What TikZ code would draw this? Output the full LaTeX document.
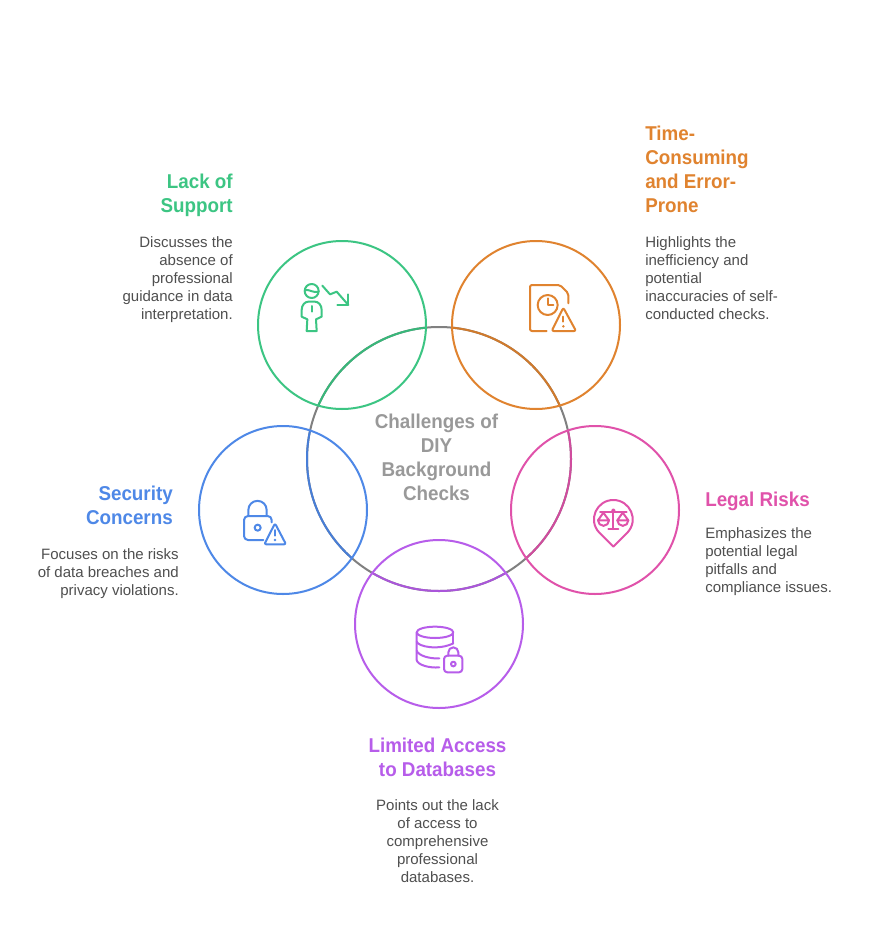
\documentclass[tikz,border=0pt]{standalone}
\usepackage{fontspec}
\setmainfont{Liberation Sans}
\newfontfamily\headfont[FakeStretch=0.94]{Liberation Sans}
\usetikzlibrary{arrows.meta,positioning}
\definecolor{dgreen}{HTML}{3CC583}
\definecolor{dorange}{HTML}{E0832F}
\definecolor{dblue}{HTML}{4E88E7}
\definecolor{dpink}{HTML}{E052AA}
\definecolor{dpurple}{HTML}{B75DEA}
\definecolor{dgray}{HTML}{808080}
\definecolor{dlabel}{HTML}{999999}
\definecolor{dbody}{HTML}{4F4F4F}
\tikzset{
  ring/.style={circle,draw,line width=1.5pt,minimum size=126pt,inner sep=0pt,outer sep=0pt},
  heading/.style={font=\headfont\fontsize{15}{18}\selectfont\bfseries,inner sep=0pt},
  bodytext/.style={font=\fontsize{11.25}{13.5}\selectfont,text=dbody,inner sep=0pt},
  icon/.style={line width=1.5pt,line cap=round,line join=round}
}

\begin{document}
\begin{tikzpicture}[x=0.75pt,y=-0.75pt]
  \useasboundingbox (0,0) rectangle (873,938);
  \fill[white] (0,0) rectangle (873,938);

  % ---- Centre circle ----------------------------------------
  \node[ring,draw=dgray,minimum size=198pt] (hub) at (439,459) {};
  \foreach \cx/\cy/\col in {342/325/dgreen,536/325/dorange,283/510/dblue,595/510/dpink,439/624/dpurple} {
    \begin{scope}
      \clip (\cx,\cy) circle (84);
      \draw[\col!93!black,line width=1.5pt] (439,459) circle (132);
    \end{scope}
  }
  \node[font=\headfont\fontsize{15}{18}\selectfont\bfseries,text=dlabel,align=center,inner sep=0pt] (hubtext) at (436.5,457) {Challenges of\\DIY\\Background\\Checks};

  % ---- Outer circles ----------------------------------------
  \node[ring,draw=dgreen] (support) at (342,325) {};
  \node[ring,draw=dorange] (timing) at (536,325) {};
  \node[ring,draw=dblue] (security) at (283,510) {};
  \node[ring,draw=dpink] (legal) at (595,510) {};
  \node[ring,draw=dpurple] (access) at (439,624) {};

  % ---- Lack of Support --------------------------------------
  \node[heading,text=dgreen,align=right,anchor=north east] (supporthead) at (233,174) {Lack of\\Support};
  \node[bodytext,align=right,anchor=north east] (supportbody) at (233,236) {Discusses the\\absence of\\professional\\guidance in data\\interpretation.};
  \begin{scope}[shift={(280,260)},x=0.25pt,y=-0.25pt,icon,dgreen]
    \draw (95,93) circle (21);
    \draw (75,90) .. controls (90,88) and (100,100) .. (116,95);
    \draw (80,213) -- (110,213) -- (108,178) -- (125,170) -- (125,150) .. controls (125,135) and (115,125) .. (105,125)
      -- (85,125) .. controls (75,125) and (65,135) .. (65,150) -- (65,170) -- (82,178) -- cycle;
    \draw (95,138) -- (95,155);
    \draw (127,77) -- (150,103) -- (170,95) -- (205,135);
    \draw (205,103) -- (205,135) -- (172,135);
  \end{scope}

  % ---- Time-Consuming and Error-Prone -----------------------
  \node[heading,text=dorange,align=left,anchor=north west] (timinghead) at (645,126) {Time-\\Consuming\\and Error-\\Prone};
  \node[bodytext,align=left,anchor=north west] (timingbody) at (645,236) {Highlights the\\inefficiency and\\potential\\inaccuracies of self-\\conducted checks.};
  \begin{scope}[shift={(510,270)},x=0.25pt,y=-0.25pt,icon,dorange]
    \draw[rounded corners=1.5pt] (110,183) -- (60,183) -- (60,45) -- (150,45) -- (175,70) -- (175,100);
    \draw (113,105) circle (30);
    \draw (113,85) -- (113,105) -- (130,105);
    \draw[rounded corners=1.5pt] (160,113) -- (198,183) -- (125,183) -- cycle;
    \draw (160,140) -- (160,155);
    \fill (160,169) circle (4);
  \end{scope}

  % ---- Security Concerns ------------------------------------
  \node[heading,text=dblue,align=right,anchor=north east] (securityhead) at (173,486) {Security\\Concerns};
  \node[bodytext,align=right,anchor=north east] (securitybody) at (179,548) {Focuses on the risks\\of data breaches and\\privacy violations.};
  \begin{scope}[shift={(230,485)},x=0.25pt,y=-0.25pt,icon,dblue]
    \draw (55,92) -- (55,75) arc (180:360:27.5) -- (110,92);
    \draw[rounded corners=3pt] (100,165) -- (42,165) -- (42,93) -- (125,93) -- (125,112);
    \draw (83,128) circle (9);
    \draw[rounded corners=1.5pt] (135,115) -- (168,178) -- (103,178) -- cycle;
    \draw (135,135) -- (135,152);
    \fill (135,165) circle (4);
  \end{scope}

  % ---- Legal Risks ------------------------------------------
  \node[heading,text=dpink,align=left,anchor=north west] (legalhead) at (705,492) {Legal Risks};
  \node[bodytext,align=left,anchor=north west] (legalbody) at (705,527) {Emphasizes the\\potential legal\\pitfalls and\\compliance issues.};
  \begin{scope}[shift={(580,485)},x=0.25pt,y=-0.25pt,icon,dpink]
    \draw (100,185) -- (58,143) .. controls (22,105) and (50,45) .. (100,45)
      .. controls (150,45) and (178,105) .. (142,143) -- cycle;
    \draw (60,80) -- (140,80);
    \draw (100,77) circle (4);
    \draw (100,82) -- (100,132);
    \draw (85,132) -- (115,132);
    \draw (70,83) -- (54,106) -- (87,106) -- cycle;
    \draw (54,106) arc (180:0:16.5);
    \draw (128,83) -- (112,106) -- (145,106) -- cycle;
    \draw (112,106) arc (180:0:16.5);
  \end{scope}

  % ---- Limited Access to Databases --------------------------
  \node[heading,text=dpurple,align=center] (accesshead) at (437.5,757) {Limited Access\\to Databases};
  \node[bodytext,align=center] (accessbody) at (437.5,841) {Points out the lack\\of access to\\comprehensive\\professional\\databases.};
  \begin{scope}[shift={(405,615)},x=0.25pt,y=-0.25pt,icon,dpurple]
    \draw (90,52) ellipse (55 and 17);
    \draw (35,52) -- (35,135) .. controls (37,150) and (75,160) .. (103,157);
    \draw (145,52) -- (145,85);
    \draw (35,80) .. controls (40,95) and (100,107) .. (145,85);
    \draw (35,107) .. controls (40,122) and (75,132) .. (103,130);
    \draw[rounded corners=2.5pt] (117,122) rectangle (172,172);
    \draw (130,122) -- (130,112) arc (180:360:15) -- (160,122);
    \draw (145,147) circle (7);
  \end{scope}

\end{tikzpicture}
\end{document}
